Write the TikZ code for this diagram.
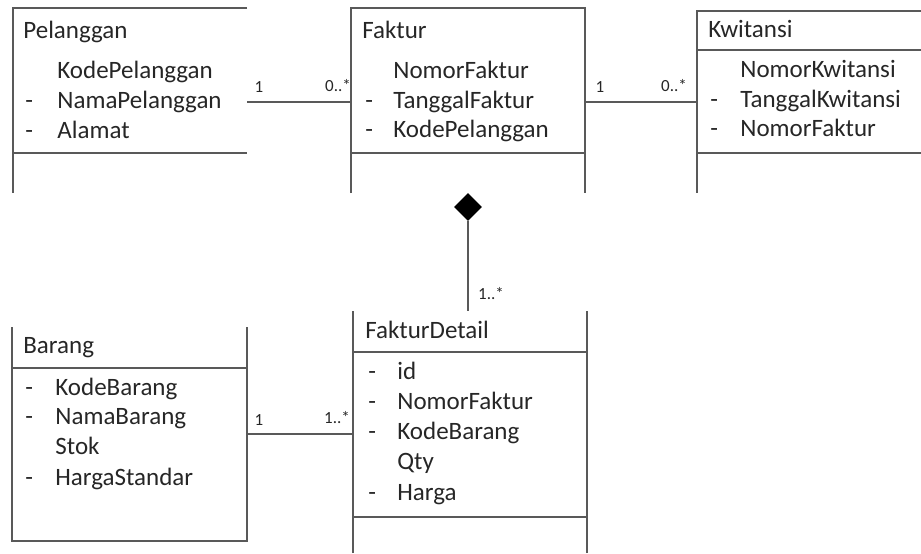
\documentclass[tikz,border=0pt]{standalone}
\usepackage{fontspec}
\setmainfont{Carlito}
\usetikzlibrary{positioning,shapes.geometric}

\begin{document}
\begin{tikzpicture}[x=0.5pt,y=-0.5pt,
  line/.style={draw=black!65,line width=0.75pt},
  attr/.style={anchor=west,inner sep=0pt,text height=9pt,text depth=3pt,
    font=\fontsize{12.5}{15}\selectfont,text=black!85},
  mult/.style={inner sep=0pt,font=\fontsize{8.5}{10}\selectfont,text=black!85}
]
\useasboundingbox (0,0) rectangle (921,553);

% Pelanggan
\draw[line] (247,8) -- (13,8) -- (13,193);
\draw[line] (13,153) -- (247,153);
\node[attr] (pel) at (23,32) {Pelanggan};
\node[attr] (pel-a1) at (57,72) {KodePelanggan};
\node[attr] (pel-d2) at (25,102) {-};
\node[attr] (pel-a2) at (57,102) {NamaPelanggan};
\node[attr] (pel-d3) at (25,132) {-};
\node[attr] (pel-a3) at (57,132) {Alamat};
\coordinate (pel-e) at (247,102);

% Faktur
\draw[line] (351,193) -- (351,8) -- (585,8) -- (585,193);
\draw[line] (351,153) -- (585,153);
\node[attr] (fak) at (362,32) {Faktur};
\node[attr] (fak-a1) at (393,72) {NomorFaktur};
\node[attr] (fak-d2) at (365,102) {-};
\node[attr] (fak-a2) at (393,102) {TanggalFaktur};
\node[attr] (fak-d3) at (365,131) {-};
\node[attr] (fak-a3) at (393,131) {KodePelanggan};
\coordinate (fak-w) at (351,102);
\coordinate (fak-e) at (585,102);

% Kwitansi
\draw[line] (921,11) -- (697,11) -- (697,193);
\draw[line] (697,50) -- (921,50);
\draw[line] (697,153) -- (921,153);
\node[attr] (kwi) at (708,31) {Kwitansi};
\node[attr] (kwi-a1) at (740,71) {NomorKwitansi};
\node[attr] (kwi-d2) at (710,101) {-};
\node[attr] (kwi-a2) at (740,101) {TanggalKwitansi};
\node[attr] (kwi-d3) at (710,130) {-};
\node[attr] (kwi-a3) at (740,130) {NomorFaktur};
\coordinate (kwi-w) at (697,102);

% Barang
\draw[line] (12,327) -- (12,541) -- (247,541) -- (247,327);
\draw[line] (12,368) -- (247,368);
\node[attr] (bar) at (23,347) {Barang};
\node[attr] (bar-d1) at (25,389) {-};
\node[attr] (bar-a1) at (55,389) {KodeBarang};
\node[attr] (bar-d2) at (25,418) {-};
\node[attr] (bar-a2) at (55,418) {NamaBarang};
\node[attr] (bar-a3) at (55,448) {Stok};
\node[attr] (bar-d4) at (25,479) {-};
\node[attr] (bar-a4) at (55,479) {HargaStandar};
\coordinate (bar-e) at (247,434);

% FakturDetail
\draw[line] (353,553) -- (353,311);
\draw[line] (587,553) -- (587,311);
\draw[line] (353,352) -- (587,352);
\draw[line] (353,517) -- (587,517);
\node[attr] (fd) at (365,332) {FakturDetail};
\node[attr] (fd-d1) at (368,373) {-};
\node[attr] (fd-a1) at (397,373) {id};
\node[attr] (fd-d2) at (368,403) {-};
\node[attr] (fd-a2) at (397,403) {NomorFaktur};
\node[attr] (fd-d3) at (368,433) {-};
\node[attr] (fd-a3) at (397,433) {KodeBarang};
\node[attr] (fd-a4) at (397,463) {Qty};
\node[attr] (fd-d5) at (368,494) {-};
\node[attr] (fd-a5) at (397,494) {Harga};
\coordinate (fd-w) at (353,434);
\coordinate (fd-n) at (468,311);

% relations
\draw[line] (pel-e) -- (fak-w);
\node[mult] (m1) at (259,87) {1};
\node[mult] (m2) at (338,86) {0..*};
\draw[line] (fak-e) -- (kwi-w);
\node[mult] (m3) at (600,87) {1};
\node[mult] (m4) at (674,86) {0..*};
\node[diamond,fill=black,inner sep=0pt,minimum size=14pt] (comp) at (468,207) {};
\draw[line] (comp.south) -- (fd-n);
\node[mult] (m5) at (491,294) {1..*};
\draw[line] (bar-e) -- (fd-w);
\node[mult] (m6) at (259,420) {1};
\node[mult] (m7) at (337,418) {1..*};
\end{tikzpicture}
\end{document}
